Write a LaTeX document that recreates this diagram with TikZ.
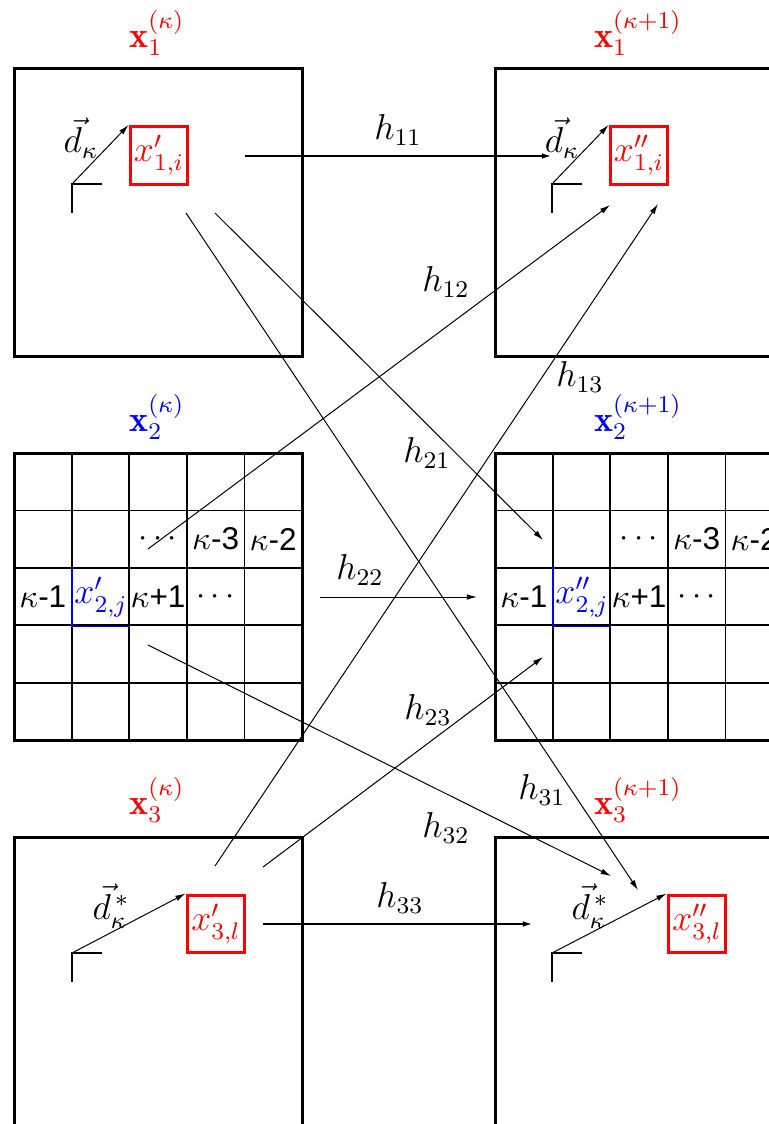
\documentclass[tikz,border=0pt]{standalone}
\usepackage{fontspec}
\setsansfont{Liberation Sans}
\usetikzlibrary{arrows.meta}
\tikzset{
  frame/.style={line width=1pt},
  gridline/.style={line width=0.6pt},
  conn/.style={line width=0.33pt,-{Latex[length=3.4pt,width=1.9pt]}},
  connthick/.style={line width=0.65pt,-{Latex[length=3.4pt,width=1.9pt]}},
  corner/.style={line width=0.6pt},
  big/.style={font=\fontsize{12}{14}\selectfont},
  redbox/.style={big,draw=red,line width=1pt,minimum size=19.3pt,inner sep=0pt,text=red},
  bluecell/.style={big,minimum size=19.2pt,inner sep=0pt,text=blue},
  lbl/.style={big,inner sep=0pt},
  cell/.style={inner sep=0pt,font=\fontsize{10.5}{12}\selectfont\sffamily},
}
\begin{document}
\begin{tikzpicture}[x=0.33333pt,y=-0.33333pt]
\useasboundingbox (0,0) rectangle (769,1124);
\clip (0,0) rectangle (769,1124);

% big frames
\draw[frame] (14,69) rectangle (302,356);
\draw[frame] (495,69) rectangle (783,356);
\draw[frame] (14,837) rectangle (302,1135);
\draw[frame] (495,837) rectangle (783,1135);

% grids
\foreach \X in {14,495} {
  \foreach \i in {1,...,4} {
    \draw[gridline] (\X+\i*57.6,453) -- ++(0,287);
    \draw[gridline] (\X,453+\i*57.4) -- ++(288,0);
  }
  \draw[frame] (\X,453) rectangle ++(288,287);
}

% titles
\node[lbl,text=red] (t1L) at (157,33) {$\mathbf{x}_1^{(\kappa)}$};
\node[lbl,text=red] (t1R) at (638,33) {$\mathbf{x}_1^{(\kappa+1)}$};
\node[lbl,text=blue] (t2L) at (157,417) {$\mathbf{x}_2^{(\kappa)}$};
\node[lbl,text=blue] (t2R) at (638,417) {$\mathbf{x}_2^{(\kappa+1)}$};
\node[lbl,text=red] (t3L) at (157,800) {$\mathbf{x}_3^{(\kappa)}$};
\node[lbl,text=red] (t3R) at (638,800) {$\mathbf{x}_3^{(\kappa+1)}$};

% red boxes
\node[redbox] (r1L) at (159,155.5) {$x'_{1,i}$};
\node[redbox] (r1R) at (639,155.5) {$x''_{1,i}$};
\node[redbox] (r3L) at (216,924) {$x'_{3,l}$};
\node[redbox] (r3R) at (697,924) {$x''_{3,l}$};

% grid cell texts (left)
\node[cell] (gL1) at (158,539) {$\cdots$};
\node[cell] (gL2) at (215.6,539) {$\kappa$-3};
\node[cell] (gL3) at (273.2,539) {$\kappa$-2};
\node[cell] (gL4) at (42.8,597) {$\kappa$-1};
\node[bluecell] (b2L) at (101,597) {$x'_{2,j}$};
\node[cell] (gL5) at (158,597) {$\kappa${+}1};
\node[cell] (gL6) at (215.6,597) {$\cdots$};
\draw[blue,line width=0.6pt] (b2L.north west) -- (b2L.south west) -- (b2L.south east);
% grid cell texts (right)
\node[cell] (gR1) at (639,539) {$\cdots$};
\node[cell] (gR2) at (696.6,539) {$\kappa$-3};
\node[cell] (gR3) at (754.2,539) {$\kappa$-2};
\node[cell] (gR4) at (523.8,597) {$\kappa$-1};
\node[bluecell] (b2R) at (582,597) {$x''_{2,j}$};
\node[cell] (gR5) at (639,597) {$\kappa${+}1};
\node[cell] (gR6) at (696.6,597) {$\cdots$};
\draw[blue,line width=0.6pt] (b2R.north west) -- (b2R.south west) -- (b2R.south east);

% local frames and displacement vectors
\coordinate (o1L) at (72,184);
\coordinate (o1R) at (552,184);
\coordinate (o3L) at (72,953);
\coordinate (o3R) at (552,953);
\draw[corner] (102,184) -- (o1L) -- (72,213);
\draw[corner] (582,184) -- (o1R) -- (552,213);
\draw[corner] (102,953) -- (o3L) -- (72,982);
\draw[corner] (582,953) -- (o3R) -- (552,982);
\draw[conn] (o1L) -- (r1L.north west);
\draw[conn] (o1R) -- (r1R.north west);
\draw[conn] (o3L) -- (r3L.north west);
\draw[conn] (o3R) -- (r3R.north west);
\node[lbl] (dL1) at (81,138) {$\vec{d}_\kappa$};
\node[lbl] (dR1) at (562,138) {$\vec{d}_\kappa$};
\node[lbl] (dL3) at (111,906) {$\vec{d}^{\,*}_\kappa$};
\node[lbl] (dR3) at (590,906) {$\vec{d}^{\,*}_\kappa$};

% connector end points
\coordinate (s11) at (245,156);  \coordinate (e11) at (552,156);
\coordinate (s12) at (148,549);  \coordinate (e12) at (610,205);
\coordinate (s13) at (215,866);  \coordinate (e13) at (658,204);
\coordinate (s21) at (215,213);  \coordinate (e21) at (543,540);
\coordinate (s22) at (320,597);  \coordinate (e22) at (477,597);
\coordinate (s23) at (263,867);  \coordinate (e23) at (543,657);
\coordinate (s31) at (186,213);  \coordinate (e31) at (638,890);
\coordinate (s32) at (148,645);  \coordinate (e32) at (611,876);
\coordinate (s33) at (263,924);  \coordinate (e33) at (533,924);

\draw[connthick] (s11) -- (e11);
\draw[conn] (s12) -- (e12);
\draw[conn] (s13) -- (e13);
\draw[conn] (s21) -- (e21);
\draw[conn] (s22) -- (e22);
\draw[conn] (s23) -- (e23);
\draw[conn] (s31) -- (e31);
\draw[conn] (s32) -- (e32);
\draw[connthick] (s33) -- (e33);

% connector labels
\node[lbl] (h11) at (398,130) {$h_{11}$};
\node[lbl] (h12) at (446,282) {$h_{12}$};
\node[lbl] (h13) at (580,377) {$h_{13}$};
\node[lbl] (h21) at (427,453) {$h_{21}$};
\node[lbl] (h22) at (360,570) {$h_{22}$};
\node[lbl] (h23) at (428,710) {$h_{23}$};
\node[lbl] (h31) at (542,790) {$h_{31}$};
\node[lbl] (h32) at (446,828) {$h_{32}$};
\node[lbl] (h33) at (400,898) {$h_{33}$};
\end{tikzpicture}
\end{document}
